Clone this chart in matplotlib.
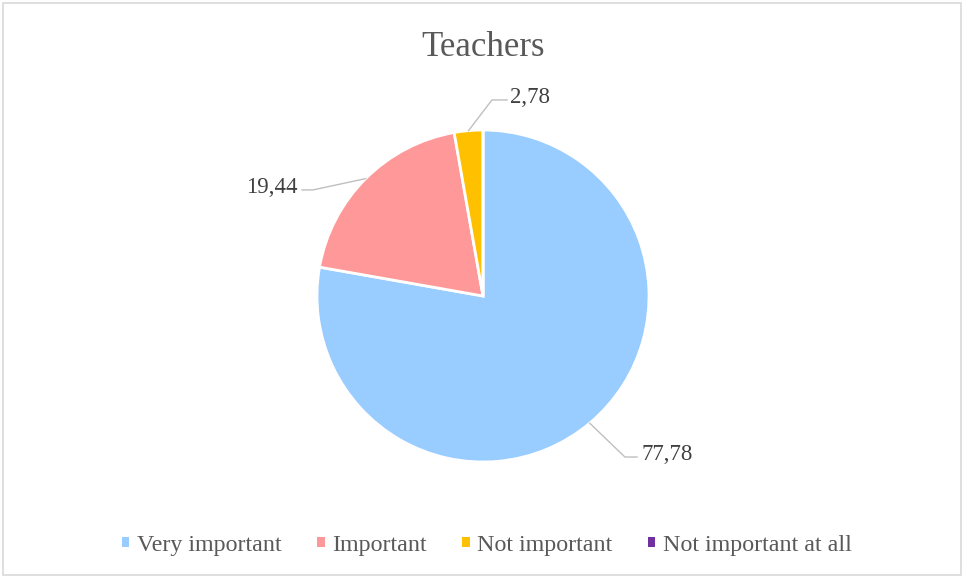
import matplotlib.pyplot as plt
import numpy as np
from matplotlib.patches import Patch, Rectangle

plt.rcParams["font.family"] = ["Liberation Serif", "DejaVu Serif"]

categories = ["Very important", "Important", "Not important", "Not important at all"]
values = [77.78, 19.44, 2.78, 0.0]
colors = ["#99CCFF", "#FF9999", "#FFC000", "#7030A0"]

fig = plt.figure(figsize=(9.64, 5.77), dpi=100)
fig.patches.append(
    Rectangle((0.003, 0.004), 0.994, 0.99, transform=fig.transFigure,
              fill=False, edgecolor="#d9d9d9", linewidth=1.2)
)

# pie centred at ~(483, 296) px, radius ~166 px
ax = fig.add_axes([283 / 964, 81 / 577, 400 / 964, 400 / 577])
lim = 200 / 166
wedges, _ = ax.pie(values, colors=colors, startangle=90, counterclock=False,
                   radius=1, wedgeprops=dict(edgecolor="white", linewidth=2))
ax.set_xlim(-lim, lim)
ax.set_ylim(-lim, lim)
ax.set_aspect("equal")
ax.axis("off")

# leader lines: (elbow, end, text position, alignment)
leaders = {
    0: ((0.855, -0.970), (0.928, -0.970), (0.952, -0.955), "left"),
    1: ((-1.024, 0.639), (-1.090, 0.639), (-1.115, 0.655), "right"),
    2: ((0.054, 1.181), (0.145, 1.181), (0.160, 1.195), "left"),
}
for i, (elbow, end, txt, ha) in leaders.items():
    w = wedges[i]
    mid = np.deg2rad((w.theta1 + w.theta2) / 2)
    start = (np.cos(mid), np.sin(mid))
    ax.plot([start[0], elbow[0], end[0]], [start[1], elbow[1], end[1]],
            color="#bfbfbf", linewidth=1, clip_on=False)
    ax.text(txt[0], txt[1], f"{values[i]:.2f}".replace(".", ","), ha=ha, va="center",
            fontsize=16.5, color="#404040")

fig.text(0.501, 1 - 47 / 577, "Teachers", ha="center", va="center",
         fontsize=25, color="#595959")

handles = [Patch(facecolor=c, edgecolor="none") for c in colors]
leg = fig.legend(handles, categories, loc="center", bbox_to_anchor=(0.505, 1 - 545 / 577),
                 ncol=4, frameon=False, fontsize=17.3, handlelength=0.3,
                 handleheight=0.3, handletextpad=0.3, columnspacing=1.5)
for t in leg.get_texts():
    t.set_color("#595959")

fig.savefig("out.png", dpi=100)
